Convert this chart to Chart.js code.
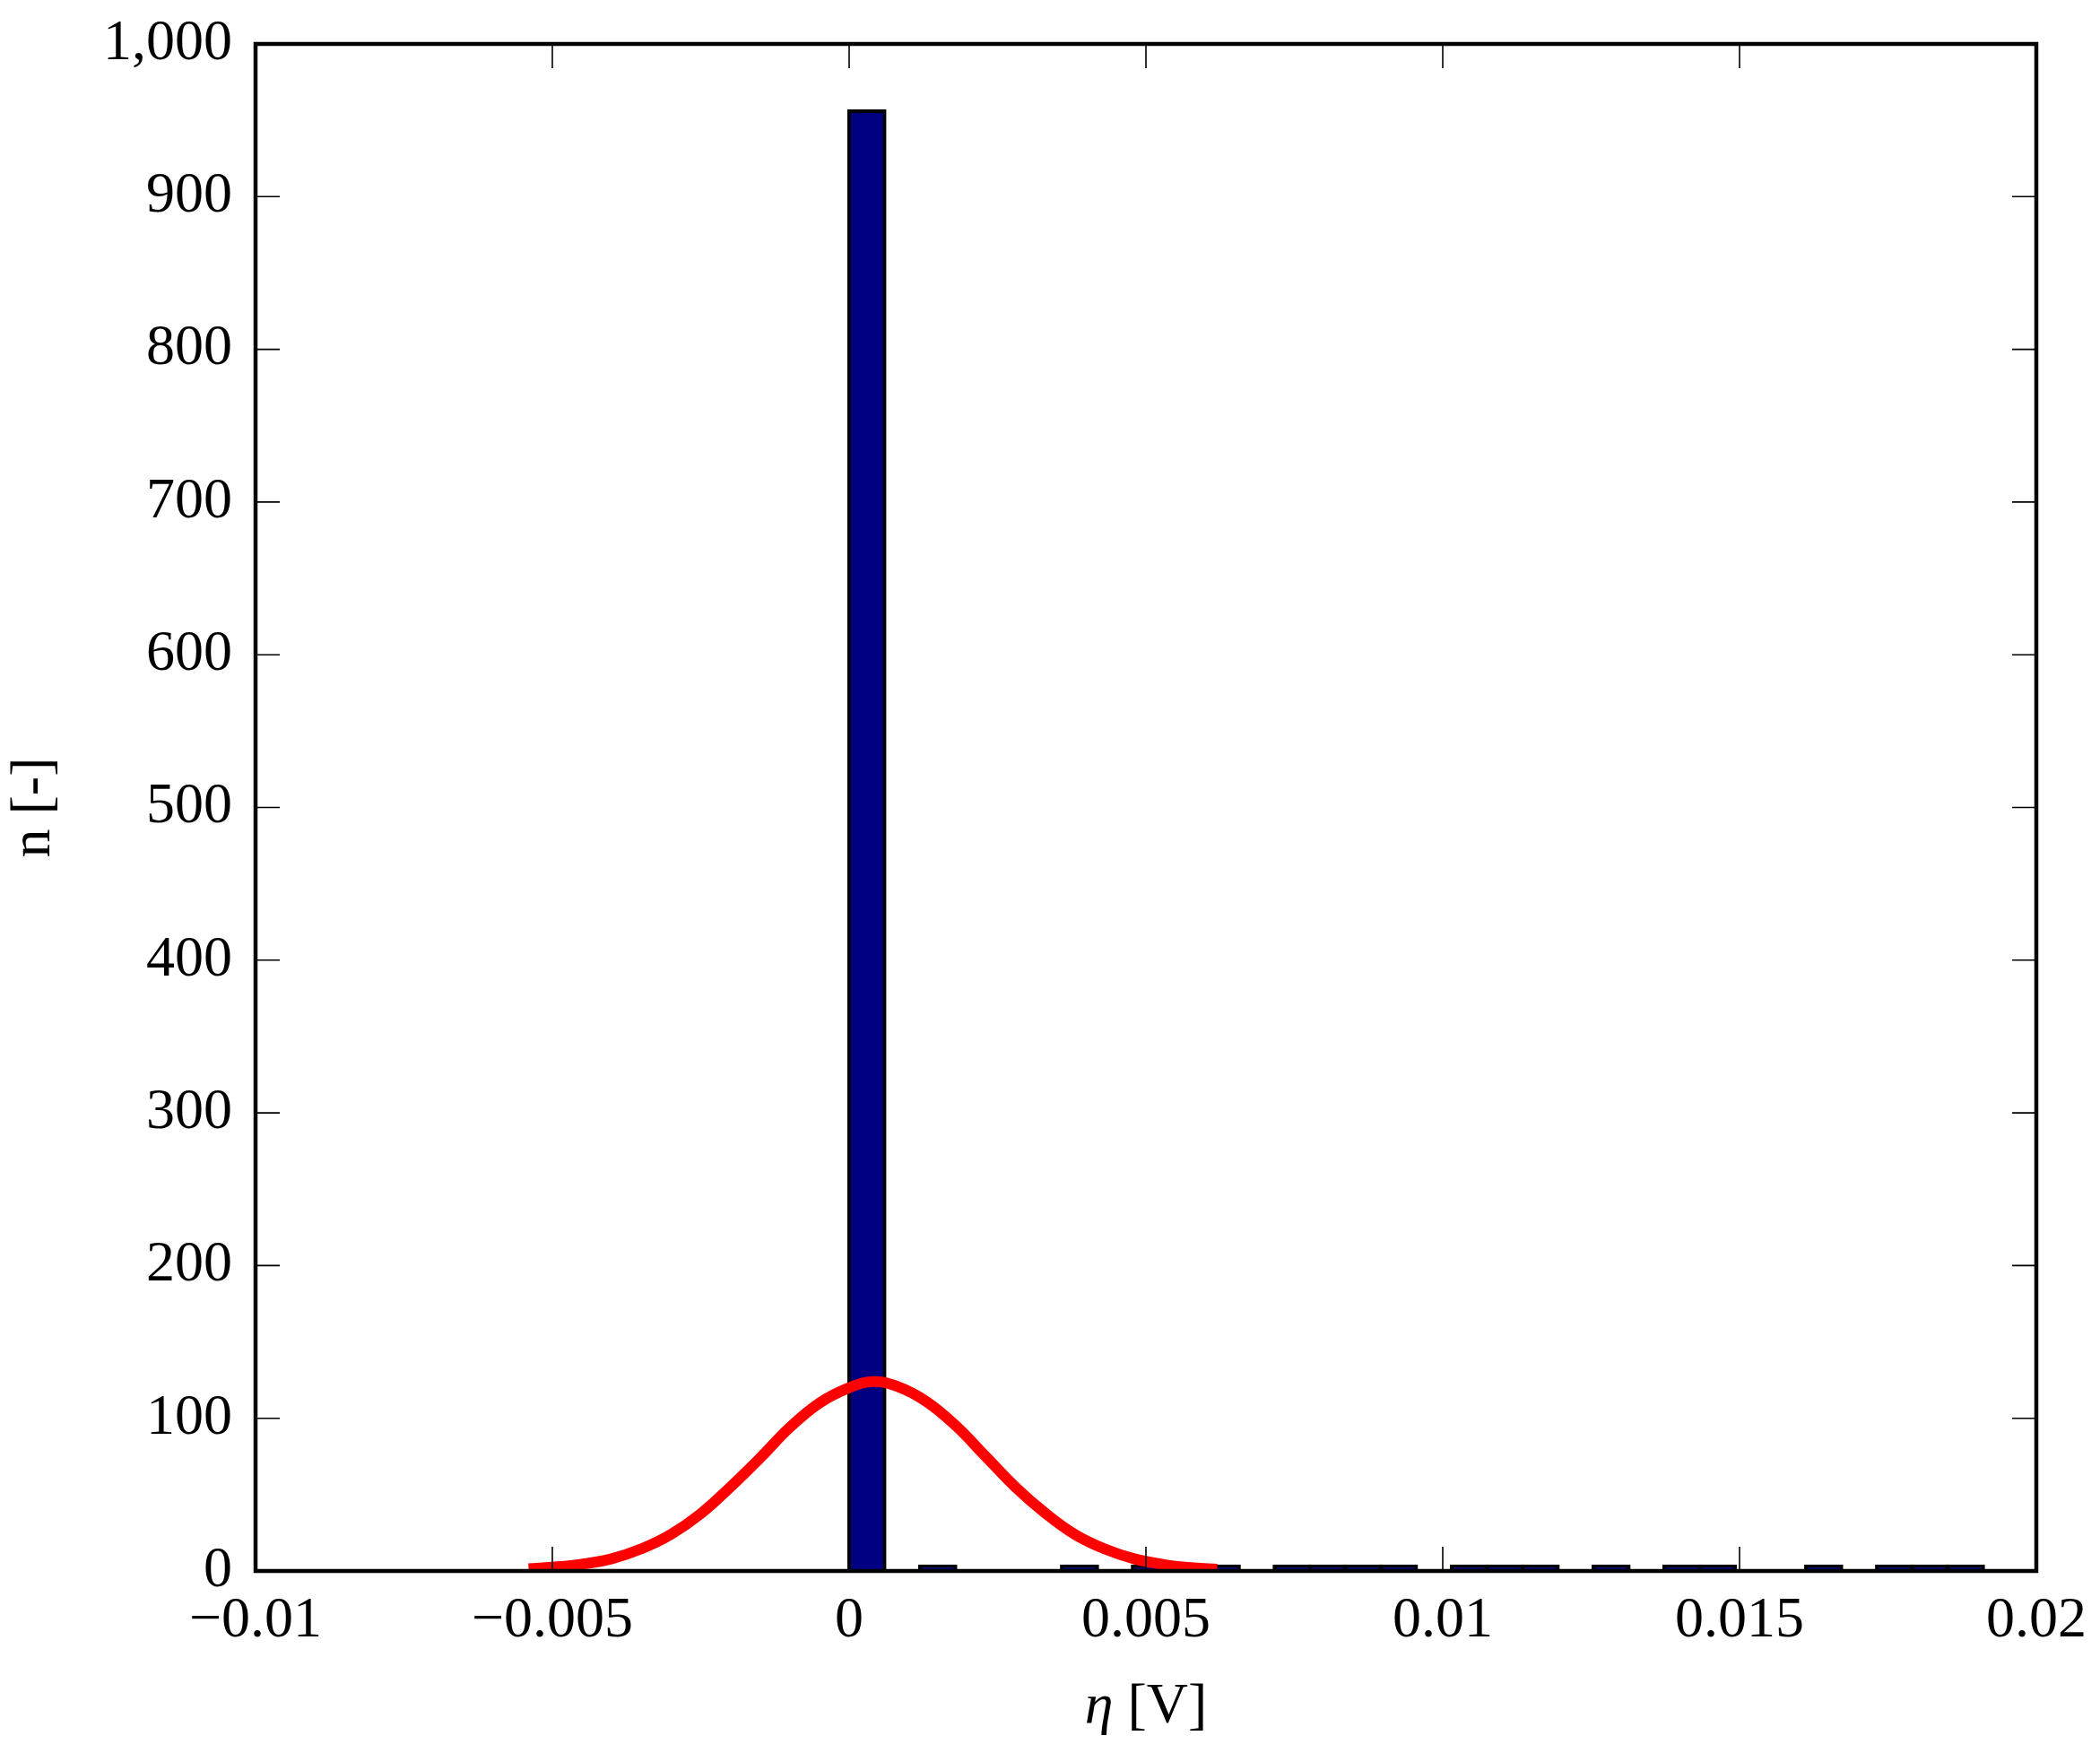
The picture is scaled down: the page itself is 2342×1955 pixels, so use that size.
<!DOCTYPE html>
<html>
<head>
<meta charset="utf-8">
<title>Histogram eta</title>
<script src="https://cdn.jsdelivr.net/npm/chart.js@4.4.1/dist/chart.umd.min.js"></script>
<style>
  html, body { margin: 0; padding: 0; background: #fff; }
  #wrap { width: 2342px; height: 1955px; position: relative; }
</style>
</head>
<body>
<div id="wrap"><canvas id="chart-canvas"></canvas></div>
<script>
// Histogram bins (bin centres in V) and counts; null = no bar drawn
const binCenters = [
  0.000299, 0.000896, 0.001493, 0.002090, 0.002687, 0.003284, 0.003881, 0.004478,
  0.005075, 0.005672, 0.006269, 0.006866, 0.007463, 0.008060, 0.008657, 0.009254,
  0.009851, 0.010448, 0.011045, 0.011642, 0.012239, 0.012836, 0.013433, 0.014030,
  0.014627, 0.015224, 0.015821, 0.016418, 0.017015, 0.017612, 0.018209, 0.018806
];
const binCounts = [
  957, null, 1, null, null, null, 1, null,
  1, null, 1, null, 4, 0, 0, 0,
  null, 1, 0, 0, null, 0, null, 0,
  0, null, null, 0, null, 0, 0, 0
];

// Fitted normal curve
const fitX = [
  -0.0054, -0.0050, -0.0045, -0.0040, -0.0035, -0.0030, -0.0025, -0.0020, -0.0015,
  -0.0010, -0.0005, 0.0000, 0.0004, 0.0008, 0.0013, 0.0018, 0.0023, 0.0028,
  0.0033, 0.0038, 0.0043, 0.0048, 0.0053, 0.0058, 0.0062
];
const fitY = [
  1.5, 2.5, 4.5, 8, 14.5, 24, 37.5, 55, 74,
  94, 110, 120, 124, 121, 111, 95, 75, 55,
  38, 24, 14.5, 8, 4.2, 2, 1.2
];

// Axis ticks
const xTickMin = -0.01, xTickMax = 0.02, xTickStep = 0.005;
const yTickMin = 0, yTickMax = 1000, yTickStep = 100;

const barPoints = [];
binCenters.forEach((c, i) => {
  if (binCounts[i] !== null) barPoints.push({ x: c, y: binCounts[i] });
});
const fitPoints = fitX.map((x, i) => ({ x: x, y: fitY[i] }));

const FONT = 'Liberation Serif';
Chart.defaults.font.family = FONT;
Chart.defaults.font.size = 64;
Chart.defaults.color = '#000';

// Inward ticks on all four sides, frame, and x title with italic eta
const frameTicks = {
  id: 'frameTicks',
  afterDatasetsDraw(chart) {
    const { ctx, chartArea: a, scales: { x, y } } = chart;
    const len = 27;
    ctx.save();
    ctx.strokeStyle = '#000';
    ctx.lineWidth = 1.6;
    ctx.beginPath();
    x.ticks.forEach(t => {
      const px = x.getPixelForValue(t.value);
      ctx.moveTo(px, a.bottom); ctx.lineTo(px, a.bottom - len);
      ctx.moveTo(px, a.top); ctx.lineTo(px, a.top + len);
    });
    y.ticks.forEach(t => {
      const py = y.getPixelForValue(t.value);
      ctx.moveTo(a.left, py); ctx.lineTo(a.left + len, py);
      ctx.moveTo(a.right, py); ctx.lineTo(a.right - len, py);
    });
    ctx.stroke();
    ctx.lineWidth = 4.5;
    ctx.strokeRect(a.left, a.top, a.right - a.left, a.bottom - a.top);

    // x axis title: "η [V]"
    const part1 = 'η', part2 = ' [V]';
    ctx.fillStyle = '#000';
    ctx.textBaseline = 'middle';
    ctx.font = 'italic 64px "' + FONT + '"';
    const w1 = ctx.measureText(part1).width;
    ctx.font = '64px "' + FONT + '"';
    const w2 = ctx.measureText(part2).width;
    const startX = (a.left + a.right) / 2 - (w1 + w2) / 2;
    const ty = 1904;
    ctx.font = 'italic 64px "' + FONT + '"';
    ctx.textAlign = 'left';
    ctx.fillText(part1, startX, ty);
    ctx.font = '64px "' + FONT + '"';
    ctx.fillText(part2, startX + w1, ty);
    ctx.restore();
  }
};

function fmtX(v) {
  const r = Number(Math.abs(v).toFixed(4));
  if (r === 0) return '0';
  return (v < 0 ? '\u2212' : '') + r.toString();
}

new Chart(document.getElementById('chart-canvas'), {
  type: 'bar',
  data: {
    datasets: [
      {
        type: 'line',
        label: 'fit',
        data: fitPoints,
        borderColor: '#ff0000',
        borderWidth: 12,
        pointRadius: 0,
        fill: false,
        tension: 0.4,
        order: 0
      },
      {
        type: 'bar',
        label: 'n',
        data: barPoints,
        backgroundColor: '#000080',
        borderColor: '#000000',
        borderWidth: 4,
        borderSkipped: 'start',
        barThickness: 43,
        minBarLength: 7,
        order: 1
      }
    ]
  },
  options: {
    responsive: true,
    maintainAspectRatio: false,
    devicePixelRatio: 1,
    animation: false,
    layout: { padding: { left: 0, right: 71, top: 49, bottom: 0 } },
    plugins: {
      legend: { display: false },
      tooltip: { enabled: false }
    },
    scales: {
      x: {
        type: 'linear',
        min: xTickMin,
        max: xTickMax,
        offset: false,
        grid: { display: false, drawTicks: false, offset: false },
        border: { display: false },
        ticks: {
          stepSize: xTickStep,
          padding: 18,
          maxRotation: 0,
          autoSkip: false,
          callback: v => fmtX(v)
        },
        afterFit: s => { s.height = 203; s.paddingLeft = 0; s.paddingRight = 0; }
      },
      y: {
        min: yTickMin,
        max: yTickMax,
        grid: { display: false, drawTicks: false },
        border: { display: false },
        ticks: { stepSize: yTickStep, padding: 26 },
        title: { display: true, text: 'n [-]', padding: 0 },
        afterFit: s => { s.width = 285; s.paddingTop = 0; s.paddingBottom = 0; }
      }
    }
  },
  plugins: [frameTicks]
});
</script>
</body>
</html>
